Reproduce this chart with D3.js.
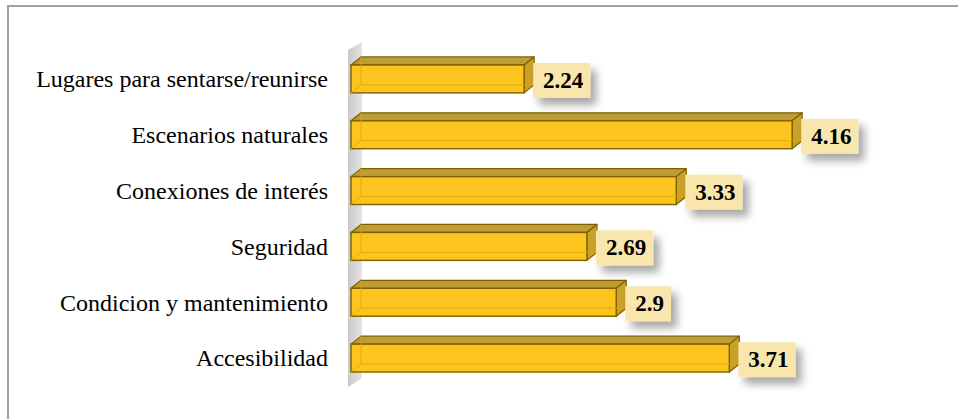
<!DOCTYPE html>
<html><head><meta charset="utf-8">
<script src="https://cdn.jsdelivr.net/npm/d3@7"></script>
<style>html,body{margin:0;padding:0;background:#fff;}svg{display:block;}</style>
</head><body>
<svg id="c" width="958" height="419"></svg>
<script>
const categories = ["Lugares para sentarse/reunirse","Escenarios naturales","Conexiones de interés","Seguridad","Condicion y mantenimiento","Accesibilidad"];
const values = [2.24, 4.16, 3.33, 2.69, 2.9, 3.71];
const valueLabels = ["2.24","4.16","3.33","2.69","2.9","3.71"];

const svg = d3.select("#c");
const W = 958, H = 419;
const defs = svg.append("defs");
const f = defs.append("filter").attr("id","sh").attr("x","-50%").attr("y","-50%").attr("width","200%").attr("height","200%");
f.append("feGaussianBlur").attr("in","SourceAlpha").attr("stdDeviation",4).attr("result","b");
f.append("feOffset").attr("in","b").attr("dx",6).attr("dy",7).attr("result","o");
f.append("feComponentTransfer").attr("in","o").attr("result","o2").append("feFuncA").attr("type","linear").attr("slope",0.35);
const m = f.append("feMerge"); m.append("feMergeNode").attr("in","o2"); m.append("feMergeNode").attr("in","SourceGraphic");
const wg = defs.append("linearGradient").attr("id","wall").attr("x1","0").attr("x2","1");
wg.append("stop").attr("offset","0").attr("stop-color","#c9c9c9");
wg.append("stop").attr("offset","1").attr("stop-color","#e4e4e4");

// frame (top and left only visible)
svg.append("line").attr("x1",8).attr("x2",W).attr("y1",6).attr("y2",6).attr("stroke","#a0a0a0").attr("stroke-width",2);
svg.append("line").attr("x1",8).attr("x2",8).attr("y1",5).attr("y2",H).attr("stroke","#a0a0a0").attr("stroke-width",2);

const x = d3.scaleLinear().domain([1,5]).range([351, 351+4*139.6]);
const y = d3.scaleBand().domain(categories).range([51,386]).paddingInner(0.5).paddingOuter(0.25);
const dx = 10, dy = 8;

// back wall
const x0 = x(1);
svg.append("path")
  .attr("d", `M${x0-3},${y.range()[0]-1} L${x0-3+dx+4},${y.range()[0]-1-dy} L${x0-3+dx+4},${y.range()[1]-8} L${x0-3},${y.range()[1]+1} Z`)
  .attr("fill","url(#wall)");

const g = svg.append("g");
categories.forEach((c,i)=>{
  const v = values[i];
  const top = y(c), bh = y.bandwidth();
  const xl = x0, xr = x(v);
  const gg = g.append("g");
  gg.append("path").attr("d",`M${xl},${top} L${xl+dx},${top-dy} L${xr+dx},${top-dy} L${xr},${top} Z`)
    .attr("fill","#b48c10").attr("fill-opacity",0.85).attr("stroke","#7d6100").attr("stroke-width",1.2).attr("stroke-linejoin","round");
  gg.append("path").attr("d",`M${xr},${top} L${xr+dx},${top-dy} L${xr+dx},${top+bh-dy} L${xr},${top+bh} Z`)
    .attr("fill","#c9a028").attr("stroke","#7d6100").attr("stroke-width",1.2).attr("stroke-linejoin","round");
  gg.append("rect").attr("x",xl).attr("y",top).attr("width",xr-xl).attr("height",bh)
    .attr("fill","#fbc41e").attr("stroke","#7d6100").attr("stroke-width",1.4);
  gg.append("path").attr("d",`M${xl+dx},${top-dy} L${xl+dx},${top+bh-dy} L${xr+dx},${top+bh-dy}`)
    .attr("fill","none").attr("stroke","#e0a800").attr("stroke-width",1).attr("stroke-opacity",0.8);
  gg.append("path").attr("d",`M${xl},${top+bh} L${xl+dx},${top+bh-dy}`)
    .attr("fill","none").attr("stroke","#e0a800").attr("stroke-width",1).attr("stroke-opacity",0.8);

  svg.append("text").attr("x",328).attr("y",top+bh/2).attr("dy","0.35em")
    .attr("text-anchor","end").attr("font-family","'Liberation Serif','Times New Roman',serif")
    .attr("font-size",24).attr("fill","#000").text(c);

  const lg = svg.append("g");
  const t = lg.append("text").attr("x",xr+dx+9).attr("y",top+bh/2+1).attr("dy","0.35em")
    .attr("font-family","'Liberation Serif','Times New Roman',serif").attr("font-weight","bold")
    .attr("font-size",23).attr("fill","#000").text(valueLabels[i]);
  const tw = t.node().getComputedTextLength();
  lg.insert("rect","text").attr("x",xr+dx-1).attr("y",top-2).attr("width",tw+17).attr("height",bh+7)
    .attr("fill","#f8e6ad").attr("filter","url(#sh)");
});
</script>
</body></html>
